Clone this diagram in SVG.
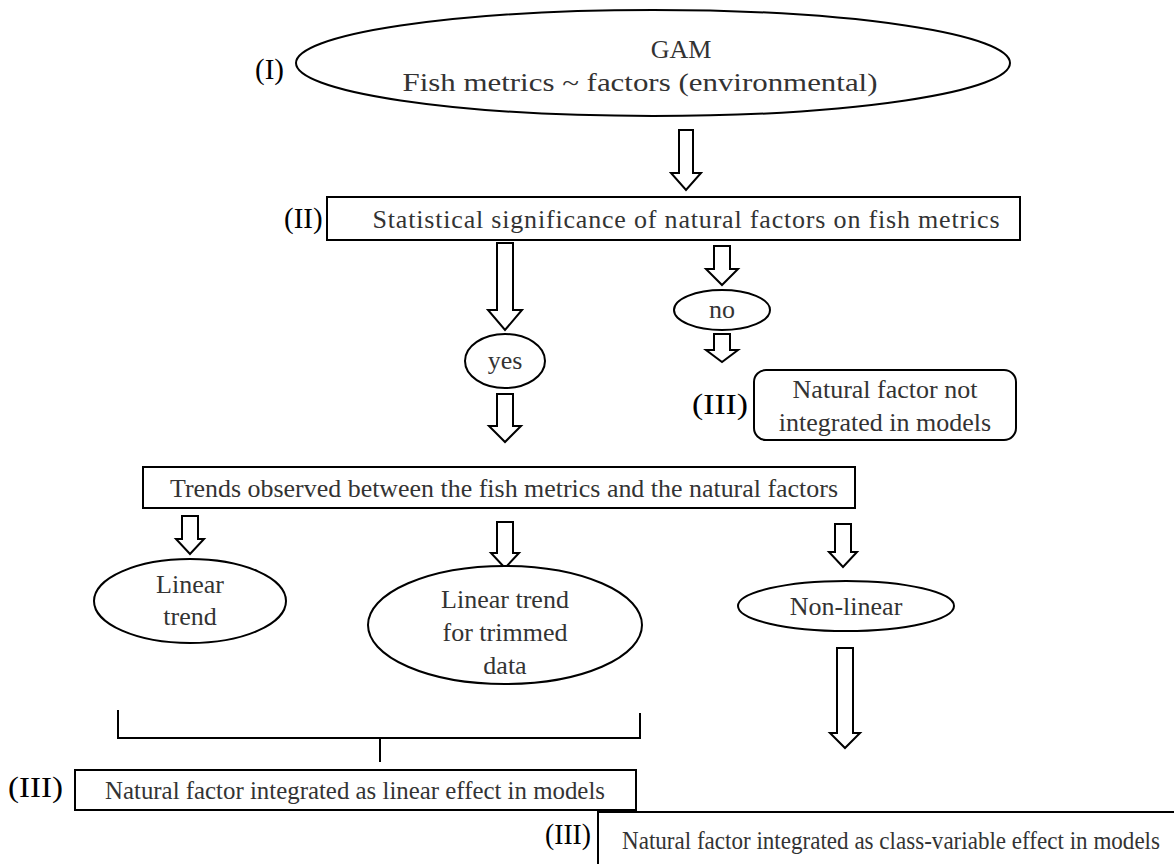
<svg xmlns="http://www.w3.org/2000/svg" width="1174" height="864" viewBox="0 0 1174 864">
<style>
.s{fill:#fff;stroke:#000;stroke-width:2}
.a{fill:#fff;stroke:#000;stroke-width:2;stroke-linejoin:miter}
.t{font-family:"Liberation Serif","Times New Roman",serif;font-size:26px;fill:#333;text-anchor:middle}
.l{font-family:"Liberation Serif","Times New Roman",serif;font-size:29px;fill:#000}
.b{fill:none;stroke:#000;stroke-width:2}
</style>
<rect width="1174" height="864" fill="#fff"/>
<g id="connectors">
<path class="a" d="M679,130 H693 V173 H701 L686,190 L671,173 H679 Z"/>
<path class="a" d="M497,243 H513 V310 H522 L505,330 L488,310 H497 Z"/>
<path class="a" d="M497,394 H513 V426 H521 L505,442 L489,426 H497 Z"/>
<path class="a" d="M714,246 H730 V269 H738 L722,285 L706,269 H714 Z"/>
<path class="a" d="M714,334 H730 V350 H738 L722,362 L706,350 H714 Z"/>
<path class="a" d="M182,516 H198 V539 H204 L190,554 L176,539 H182 Z"/>
<path class="a" d="M497,522 H513 V553 H519 L505,568 L491,553 H497 Z"/>
<path class="a" d="M835,524 H851 V552 H857 L843,567 L829,552 H835 Z"/>
<path class="a" d="M837,648 H853 V733 H860 L845,748 L830,733 H837 Z"/>
<path id="brace" class="b" d="M118,710 V738 H640 V713 M380,738 V762"/>
</g>
<g id="n1">
<ellipse class="s" cx="653" cy="63" rx="357" ry="53"/>
<text class="t" x="681" y="58">GAM</text>
<text class="t" x="640" y="91" textLength="475" lengthAdjust="spacingAndGlyphs">Fish metrics ~ factors (environmental)</text>
<text class="l" x="255" y="79">(I)</text>
</g>
<g id="n2">
<rect class="s" x="327" y="197" width="693" height="43"/>
<text class="t" x="686" y="228" textLength="627">Statistical significance of natural factors on fish metrics</text>
<text class="l" x="284" y="228">(II)</text>
</g>
<g id="yes">
<ellipse class="s" cx="505" cy="361" rx="40" ry="27"/>
<text class="t" x="505" y="369">yes</text>
</g>
<g id="no">
<ellipse class="s" cx="722" cy="310" rx="48" ry="20"/>
<text class="t" x="722" y="318">no</text>
</g>
<g id="notint">
<rect class="s" x="754" y="370" width="262" height="70" rx="12"/>
<text class="t" x="885" y="398">Natural factor not</text>
<text class="t" x="885" y="431">integrated in models</text>
<text class="l" x="692" y="414" textLength="56" lengthAdjust="spacingAndGlyphs">(III)</text>
</g>
<g id="trends">
<rect class="s" x="143" y="467" width="712" height="41"/>
<text class="t" x="504" y="497" textLength="668" lengthAdjust="spacingAndGlyphs">Trends observed between the fish metrics and the natural factors</text>
</g>
<g id="lin">
<ellipse class="s" cx="190" cy="601" rx="96" ry="42"/>
<text class="t" x="190" y="593">Linear</text>
<text class="t" x="190" y="625">trend</text>
</g>
<g id="trim">
<ellipse class="s" cx="505" cy="625" rx="137" ry="59"/>
<text class="t" x="505" y="608">Linear trend</text>
<text class="t" x="505" y="641">for trimmed</text>
<text class="t" x="505" y="674">data</text>
</g>
<g id="nonlin">
<ellipse class="s" cx="846" cy="606" rx="108" ry="25"/>
<text class="t" x="846" y="615">Non-linear</text>
</g>
<g id="linbox">
<rect class="s" x="75" y="770" width="561" height="40"/>
<text class="t" x="355" y="799" textLength="500" lengthAdjust="spacingAndGlyphs">Natural factor integrated as linear effect in models</text>
<text class="l" x="8" y="797" textLength="55" lengthAdjust="spacingAndGlyphs">(III)</text>
</g>
<g id="classbox">
<rect class="s" x="598" y="812" width="590" height="70"/>
<text class="t" x="891" y="849" textLength="538" lengthAdjust="spacingAndGlyphs">Natural factor integrated as class-variable effect in models</text>
<text class="l" x="545" y="844" textLength="46" lengthAdjust="spacingAndGlyphs">(III)</text>
</g>
</svg>
